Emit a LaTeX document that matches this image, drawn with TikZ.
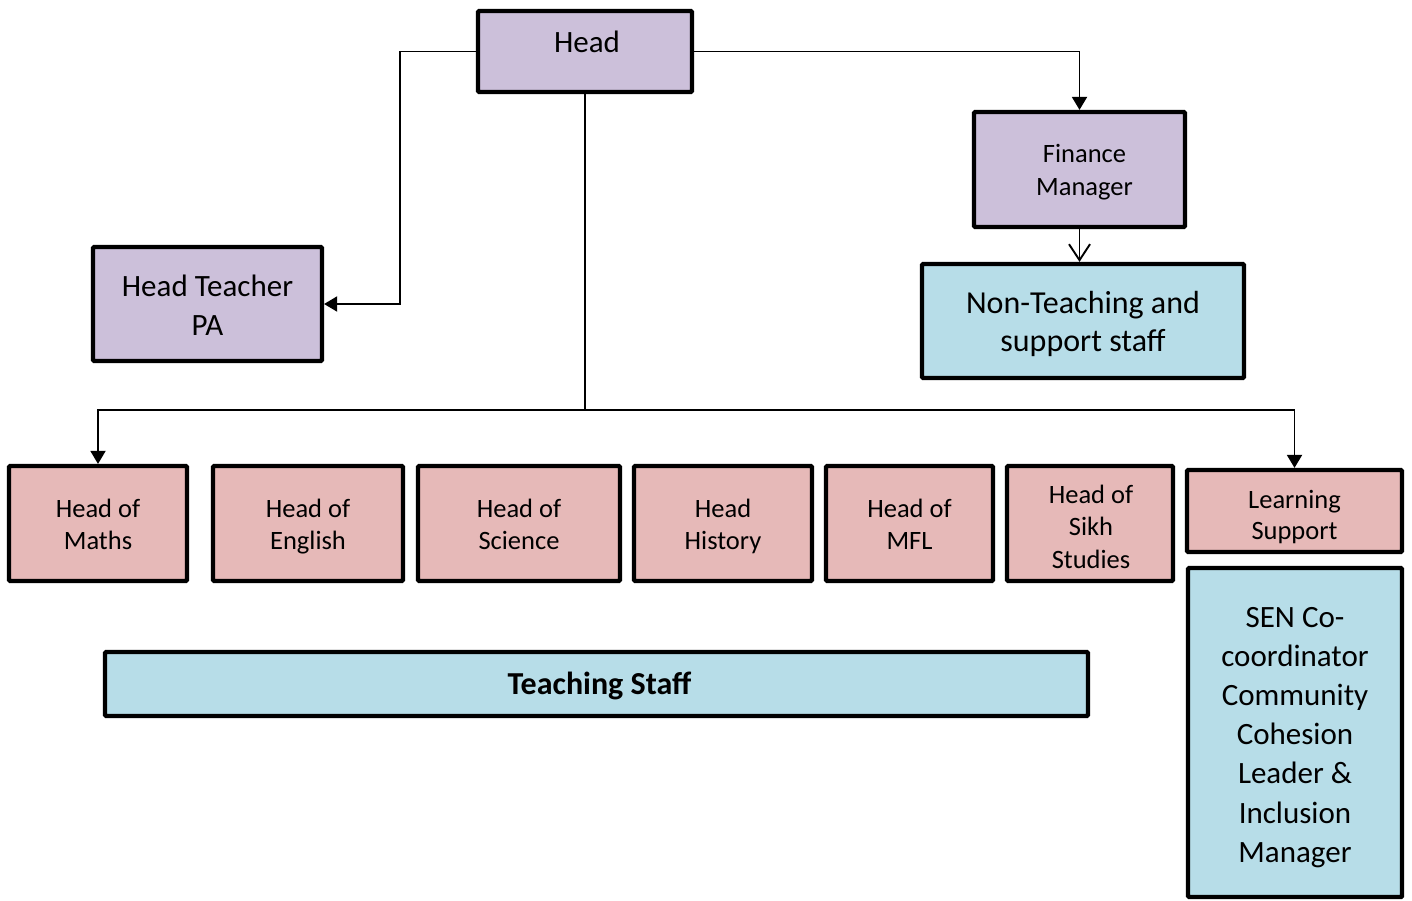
\documentclass[tikz,border=0pt]{standalone}
\usepackage{fontspec}
\setmainfont{Carlito}
\usetikzlibrary{arrows.meta}
\definecolor{purp}{RGB}{204,192,218}
\definecolor{pinkf}{RGB}{230,185,184}
\definecolor{bluef}{RGB}{183,221,232}
\tikzset{
  box/.style={draw=black, line width=4.2pt, rounded corners=1pt, inner sep=0pt},
  purplebox/.style={box, fill=purp},
  pinkbox/.style={box, fill=pinkf},
  bluebox/.style={box, fill=bluef},
  txt/.style={align=center, text=black, inner sep=0pt,
    execute at begin node={\strut}, execute at end node={\strut}},
  pinktxt/.style={txt, font=\fontsize{26.5}{32.3}\selectfont},
  bigtxt/.style={txt, font=\fontsize{31}{39.2}\selectfont},
  conn/.style={draw=black, line width=1.9pt},
  arr/.style={conn, -{Triangle[width=15pt,length=13pt]}},
  openarr/.style={conn, -{Straight Barb[width=21pt,length=16pt,line width=1.9pt]}},
}
\begin{document}
\begin{tikzpicture}[x=1pt,y=-1pt]
\useasboundingbox (0,0) rectangle (1412,901);
% top level boxes
\node[purplebox, minimum width=214pt, minimum height=81pt] (Head) at (585,51.5) {};
\node[purplebox, minimum width=211pt, minimum height=115pt] (Fin) at (1079.5,169.5) {};
\node[bluebox, minimum width=322pt, minimum height=114pt] (NT) at (1083,321) {};
\node[purplebox, minimum width=229pt, minimum height=114pt] (PA) at (207.5,304) {};
% department boxes
\node[pinkbox, minimum width=178pt, minimum height=115pt] (Maths) at (98,523.5) {};
\node[pinkbox, minimum width=190pt, minimum height=115pt] (Eng) at (308,523.5) {};
\node[pinkbox, minimum width=202pt, minimum height=115pt] (Sci) at (519,523.5) {};
\node[pinkbox, minimum width=178pt, minimum height=115pt] (Hist) at (723,523.5) {};
\node[pinkbox, minimum width=167pt, minimum height=115pt] (MFL) at (909.5,523.5) {};
\node[pinkbox, minimum width=166pt, minimum height=115pt] (Sikh) at (1090,523.5) {};
\node[pinkbox, minimum width=215pt, minimum height=82pt] (LS) at (1294.5,511) {};
\node[bluebox, minimum width=214pt, minimum height=329pt] (SEN) at (1295,732.5) {};
\node[bluebox, minimum width=983pt, minimum height=64pt] (TS) at (596.5,684) {};
% texts
\node[txt, font=\fontsize{31}{38}\selectfont] (HeadT) at (587,45) {Head};
\node[txt, font=\fontsize{26.5}{33}\selectfont] (FinT) at ([xshift=5pt,yshift=-5pt]Fin.center) {Finance\\Manager};
\node[txt, font=\fontsize{32}{38}\selectfont] (NTT) at ([yshift=-6pt]NT.center) {Non-Teaching and\\support staff};
\node[bigtxt] (PAT) at ([yshift=-7.5pt]PA.center) {Head Teacher\\PA};
\node[pinktxt] (MathsT) at ([yshift=-5.5pt]Maths.center) {Head of\\Maths};
\node[pinktxt] (EngT) at ([yshift=-5.5pt]Eng.center) {Head of\\English};
\node[pinktxt] (SciT) at ([yshift=-5.5pt]Sci.center) {Head of\\Science};
\node[pinktxt] (HistT) at ([yshift=-5.5pt]Hist.center) {Head\\History};
\node[pinktxt] (MFLT) at ([yshift=-5.5pt]MFL.center) {Head of\\MFL};
\node[pinktxt] (SikhT) at ([xshift=1pt,yshift=-8pt]Sikh.center) {Head of\\Sikh\\Studies};
\node[txt, font=\fontsize{26.5}{31}\selectfont] (LST) at ([yshift=-8.5pt]LS.center) {Learning\\Support};
\node[bigtxt] (SENT) at ([yshift=-8pt]SEN.center) {SEN Co-\\coordinator\\Community\\Cohesion\\Leader \&\\Inclusion\\Manager};
\node[txt, font=\bfseries\fontsize{32}{38}\selectfont] (TST) at ([xshift=3pt,yshift=-3pt]TS.center) {Teaching Staff};
% connectors
\coordinate (c1) at (400,51.5);
\draw[arr] (Head.west) -- (c1) |- (PA.east);
\draw[arr] (Head.east) -| (Fin.north);
\draw[openarr] (Fin.south) -- (Fin.south |- NT.north);
\coordinate (j) at (585,410);
\draw[conn] (Head.south) -- (j);
\draw[arr] (j) -| (Maths.north);
\draw[arr] (j) -| (LS.north);
\end{tikzpicture}
\end{document}
